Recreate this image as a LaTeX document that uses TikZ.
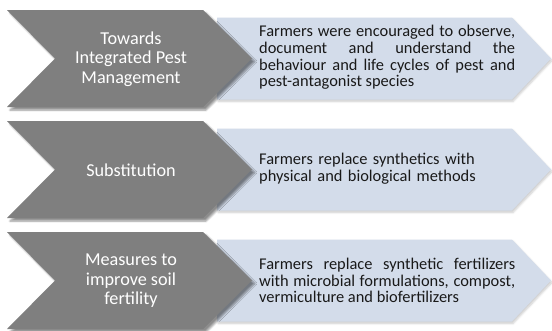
\documentclass[tikz,border=0pt]{standalone}
\usepackage{fontspec}
\setmainfont{Carlito}
\usetikzlibrary{shadows.blur}
\definecolor{chev}{HTML}{7F7F7F}
\definecolor{pent}{HTML}{D3DCEA}
\hyphenpenalty=10000
\tolerance=9999
\begin{document}
\begin{tikzpicture}[x=1pt,y=-1pt,
  chevshape/.style={fill=chev, blur shadow={shadow xshift=3pt,shadow yshift=-3pt,shadow blur steps=6,shadow opacity=45}},
  pentshape/.style={fill=pent, blur shadow={shadow xshift=1pt,shadow yshift=-2pt,shadow blur steps=5,shadow opacity=20}},
  chevtext/.style={text=white, align=center, inner sep=0pt, font=\fontsize{18.2}{19.5}\selectfont},
  penttext/.style={text=black!90, align=justify, text width=256pt, inner sep=0pt, anchor=west,
    font=\fontsize{16.4}{16.7}\selectfont}]
\useasboundingbox (0,0) rectangle (552,330);
% blue pentagons
\foreach \m in {58.5,169.5,280.5}{
  \path[pentshape] (217,\m-41) -- (512,\m-41) -- (551,\m) -- (512,\m+41) -- (217,\m+41) -- cycle;
}
% gray chevrons
\foreach \m in {58.5,169.5,280.5}{
  \path[chevshape] (7,\m-48.5) -- (203,\m-48.5) -- (252,\m) -- (203,\m+48.5) -- (7,\m+48.5) -- (55,\m) -- cycle;
}
\node[chevtext] (c1) at (131,59) {Towards\\Integrated Pest\\Management};
\node[chevtext] (c2) at (131,170) {Substitution};
\node[chevtext] (c3) at (131,281) {Measures to\\improve soil\\fertility};
\node[penttext] (p1) at (259,57.5) {Farmers were encouraged to observe,\linebreak document and understand the\linebreak behaviour and life cycles of pest and\linebreak pest-antagonist species};
\node[penttext, align=left] (p2) at (259,169) {Farmers replace synthetics with\\physical and biological methods};
\node[penttext] (p3) at (259,280.5) {Farmers replace synthetic fertilizers\linebreak with microbial formulations, compost,\linebreak vermiculture and biofertilizers};
\end{tikzpicture}
\end{document}
